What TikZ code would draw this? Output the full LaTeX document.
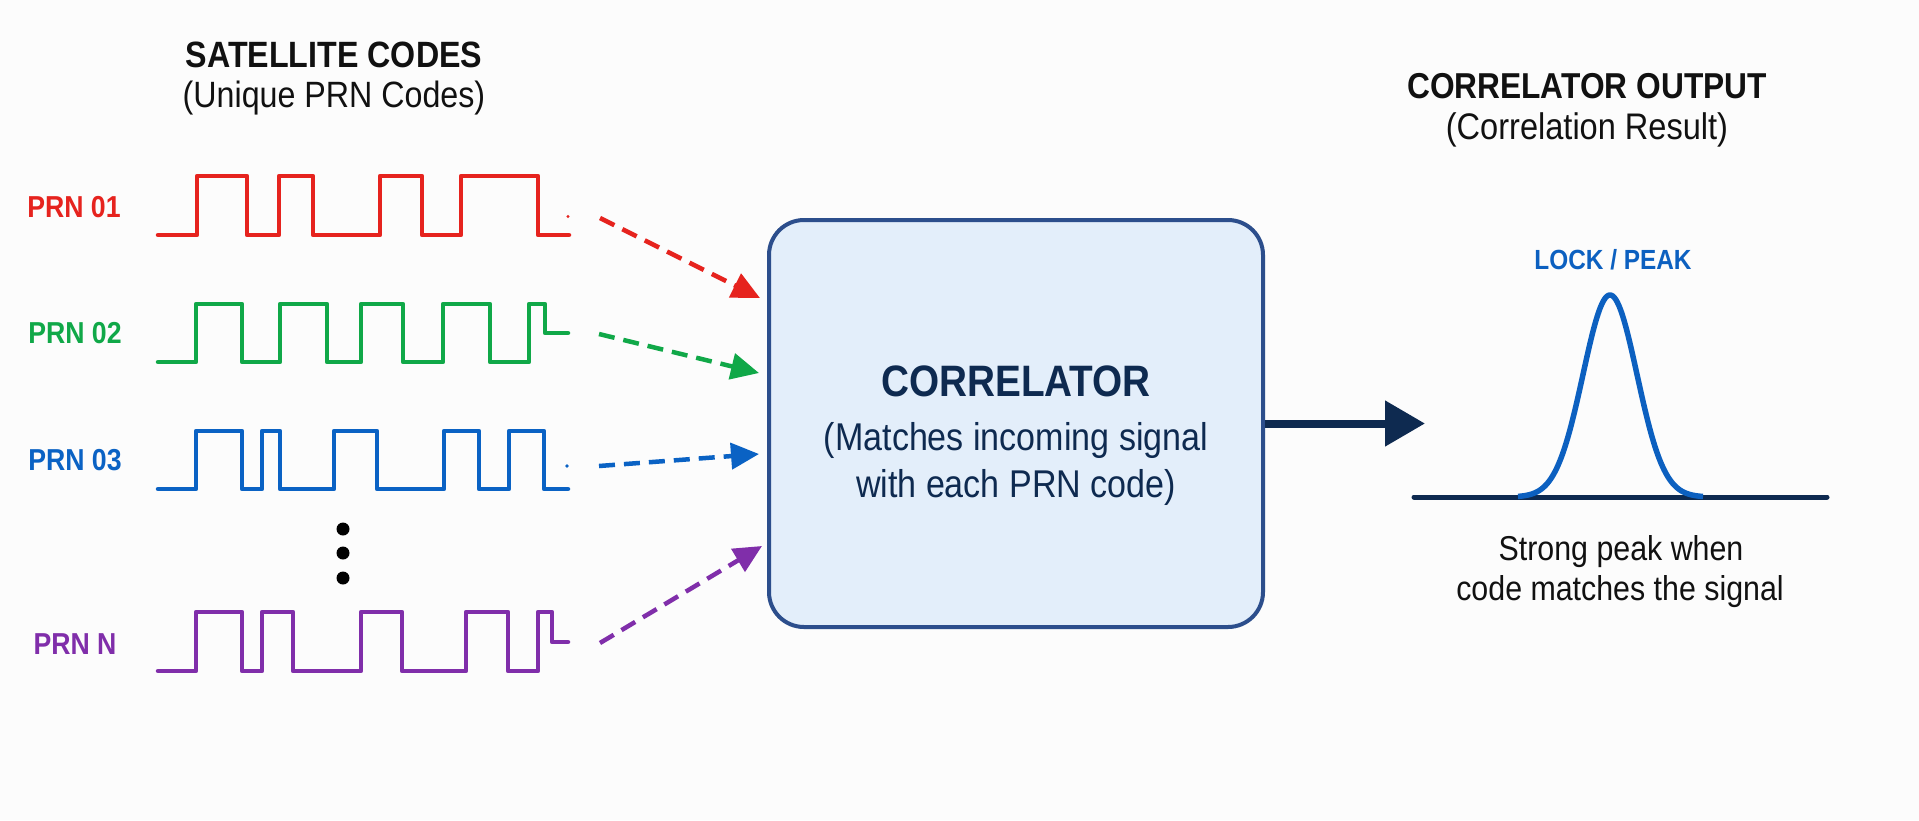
\documentclass[tikz,border=0pt]{standalone}
\usepackage{fontspec}
\setmainfont{Liberation Sans}[FakeStretch=0.88]
\usetikzlibrary{arrows.meta}
\definecolor{bgcol}{RGB}{252,252,252}
\definecolor{cred}{RGB}{230,35,30}
\definecolor{cgreen}{RGB}{16,168,72}
\definecolor{cblue}{RGB}{10,98,196}
\definecolor{cpurple}{RGB}{128,46,170}
\definecolor{boxfill}{RGB}{227,238,250}
\definecolor{boxline}{RGB}{44,78,140}
\definecolor{navy}{RGB}{14,42,80}
\definecolor{peakblue}{RGB}{12,96,192}
\definecolor{txt}{RGB}{17,17,17}
\begin{document}
\begin{tikzpicture}[x=1pt,y=-1pt,
  wave/.style={line width=4.5pt, line join=round, line cap=round},
  dasharrow/.style={line width=4.5pt, dash pattern=on 16pt off 9pt,
    -{Triangle[length=28pt,width=26pt]}},
  prnlabel/.style={font=\fontsize{30.3}{36}\selectfont\bfseries, inner sep=0pt},
  titlebold/.style={font=\fontsize{36.6}{44}\selectfont\bfseries, text=txt, inner sep=0pt},
  titlereg/.style={font=\fontsize{36.6}{44}\selectfont, text=txt, inner sep=0pt},
  boxtitle/.style={font=\fontsize{44}{52}\selectfont\bfseries, text=navy, inner sep=0pt},
  boxtext/.style={font=\fontsize{38.7}{46}\selectfont, text=navy, inner sep=0pt},
  peaktext/.style={font=\fontsize{34.5}{41}\selectfont, text=txt, inner sep=0pt},
  dotstyle/.style={circle, fill=black, minimum size=13pt, inner sep=0pt},
  corrbox/.style={draw=boxline, fill=boxfill, line width=4pt, rounded corners=35pt,
    minimum width=494pt, minimum height=407pt, inner sep=0pt}
]
\useasboundingbox (0,0) rectangle (1919,820);
\fill[bgcol] (0,0) rectangle (1919,820);

% titles
\node[titlebold] (t1a) at (334,55) {SATELLITE CODES};
\node[titlereg]  (t1b) at (334,98) {(Unique PRN Codes)};
\node[titlebold, font=\fontsize{36}{44}\selectfont\bfseries] (t2a) at (1587,86) {CORRELATOR OUTPUT};
\node[titlereg, font=\fontsize{37}{44}\selectfont] (t2b) at (1587,130) {(Correlation Result)};

% PRN labels
\node[prnlabel, text=cred]    (l1) at (74,207) {PRN 01};
\node[prnlabel, text=cgreen]  (l2) at (75,333) {PRN 02};
\node[prnlabel, text=cblue]   (l3) at (75,460) {PRN 03};
\node[prnlabel, text=cpurple] (l4) at (75,644) {PRN N};

% waveforms
\draw[wave, cred] (158,235) -| (197,176) -| (247,235) -| (279,176) -| (313,235)
  -| (380,176) -| (422,235) -| (461,176) -| (538,235) -- (569,235);
\draw[wave, cgreen] (158,362) -| (196,304) -| (242,362) -| (280,304) -| (327,362)
  -| (361,304) -| (403,362) -| (443,304) -| (490,362) -| (529,304) -| (545,333) -- (568,333);
\draw[wave, cblue] (158,489) -| (196,431) -| (242,489) -| (262,431) -| (280,489)
  -| (334,431) -| (377,489) -| (444,431) -| (479,489) -| (509,431) -| (544,489) -- (568,489);
\draw[wave, cpurple] (158,671) -| (196,612) -| (242,671) -| (262,612) -| (293,671)
  -| (361,612) -| (402,671) -| (466,612) -| (508,671) -| (538,612) -| (552,642) -- (568,642);

% tiny dots at wave ends
\fill[cred] (568,216.5) circle (1.6);
\fill[cblue] (567,466) circle (1.8);

% vertical ellipsis
\node[dotstyle] (d1) at (343,529) {};
\node[dotstyle] (d2) at (343,553) {};
\node[dotstyle] (d3) at (343,578) {};

% correlator box
\node[corrbox] (box) at (1016,423.5) {};
\node[boxtitle] (bt) at (1016,381) {CORRELATOR};
\node[boxtext] (bl1) at (1016,440) {(Matches incoming signal};
\node[boxtext] (bl2) at (1016,487) {with each PRN code)};

% dashed inputs
\coordinate (s1) at (600,218); \coordinate (e1) at (760,298);
\coordinate (s2) at (599,334); \coordinate (e2) at (759,373);
\coordinate (s3) at (599,466); \coordinate (e3) at (759,454);
\coordinate (s4) at (600,643); \coordinate (e4) at (762,546);
\draw[dasharrow, cred] (s1) -- (e1);
\draw[dasharrow, cgreen] (s2) -- (e2);
\draw[dasharrow, cblue] (s3) -- (e3);
\draw[dasharrow, cpurple] (s4) -- (e4);

% output arrow
\coordinate (otip) at (1425,423.5);
\draw[navy, line width=8pt, -{Triangle[length=40pt,width=44pt]}] (box.east) -- (otip);

% correlation peak
\coordinate (bl) at (1414,497);
\coordinate (br) at (1827,497);
\draw[navy, line width=5pt, line cap=round] (bl) -- (br);
\draw[peakblue, line width=5.5pt, line join=round]
  plot[domain=-92:93, samples=120, smooth] ({1610+\x},{497-202*exp(-(\x*\x)/1458)});
\node[font=\fontsize{27.7}{33}\selectfont\bfseries, text=peakblue, inner sep=0pt] (lock) at (1613,260) {LOCK / PEAK};
\node[peaktext] (p1) at (1621,552) {Strong peak when};
\node[peaktext] (p2) at (1620,592) {code matches the signal};
\end{tikzpicture}
\end{document}
